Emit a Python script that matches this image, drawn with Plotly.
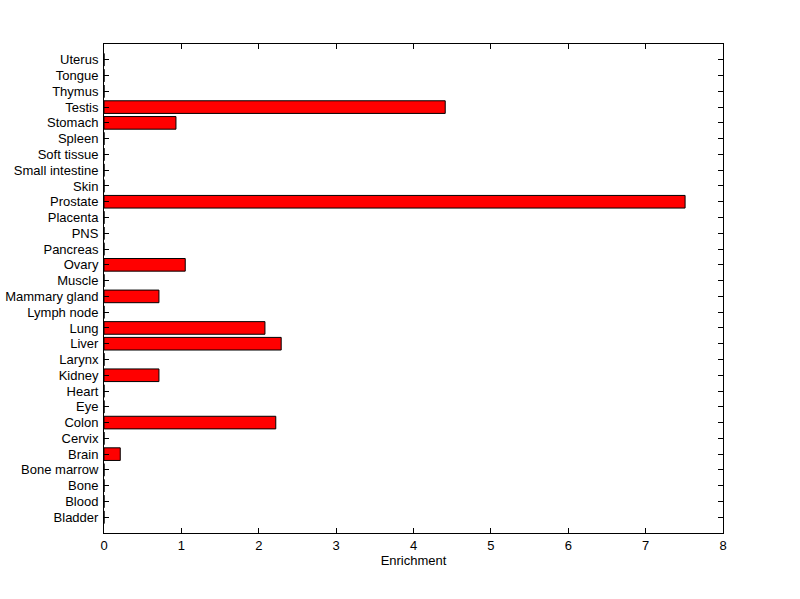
import plotly.graph_objects as go

categories = ["Bladder", "Blood", "Bone", "Bone marrow", "Brain", "Cervix", "Colon",
              "Eye", "Heart", "Kidney", "Larynx", "Liver", "Lung", "Lymph node",
              "Mammary gland", "Muscle", "Ovary", "Pancreas", "PNS", "Placenta",
              "Prostate", "Skin", "Small intestine", "Soft tissue", "Spleen",
              "Stomach", "Testis", "Thymus", "Tongue", "Uterus"]
enrichment = [0, 0, 0, 0, 0.21, 0, 2.22,
              0, 0, 0.71, 0, 2.29, 2.08, 0,
              0.71, 0, 1.05, 0, 0, 0,
              7.51, 0, 0, 0, 0,
              0.93, 4.41, 0, 0, 0]
x_ticks = [0, 1, 2, 3, 4, 5, 6, 7, 8]

fig = go.Figure(go.Bar(
    x=enrichment, y=categories, orientation="h", width=0.8,
    marker=dict(color="#FF0000", line=dict(color="black", width=1)),
))

font = dict(family="Liberation Sans, Arial, sans-serif", size=13, color="black")
fig.update_layout(
    width=800, height=599,
    margin=dict(l=104, r=77, t=44, b=66),
    paper_bgcolor="white", plot_bgcolor="white",
    font=font, showlegend=False, bargap=0.2,
)
fig.update_xaxes(
    range=[0, 8], tickvals=x_ticks, ticks="inside", ticklen=5, tickcolor="black",
    showline=True, linecolor="black", linewidth=1, mirror="ticks",
    showgrid=False, zeroline=False, automargin=False,
    title=dict(text="Enrichment", font=font, standoff=4),
    tickfont=font,
)
fig.update_yaxes(
    type="category", categoryorder="array", categoryarray=categories,
    tickmode="array", tickvals=categories, ticktext=categories,
    range=[-1, 30], ticks="inside", ticklen=5, tickcolor="black",
    showline=True, linecolor="black", linewidth=1, mirror="ticks",
    showgrid=False, zeroline=False, automargin=False,
    tickfont=font, ticklabelstandoff=2,
)

fig.write_html(
    "out.html",
    config={"displayModeBar": False},
    post_script="document.body.style.margin='0';document.body.style.overflow='hidden';",
)
